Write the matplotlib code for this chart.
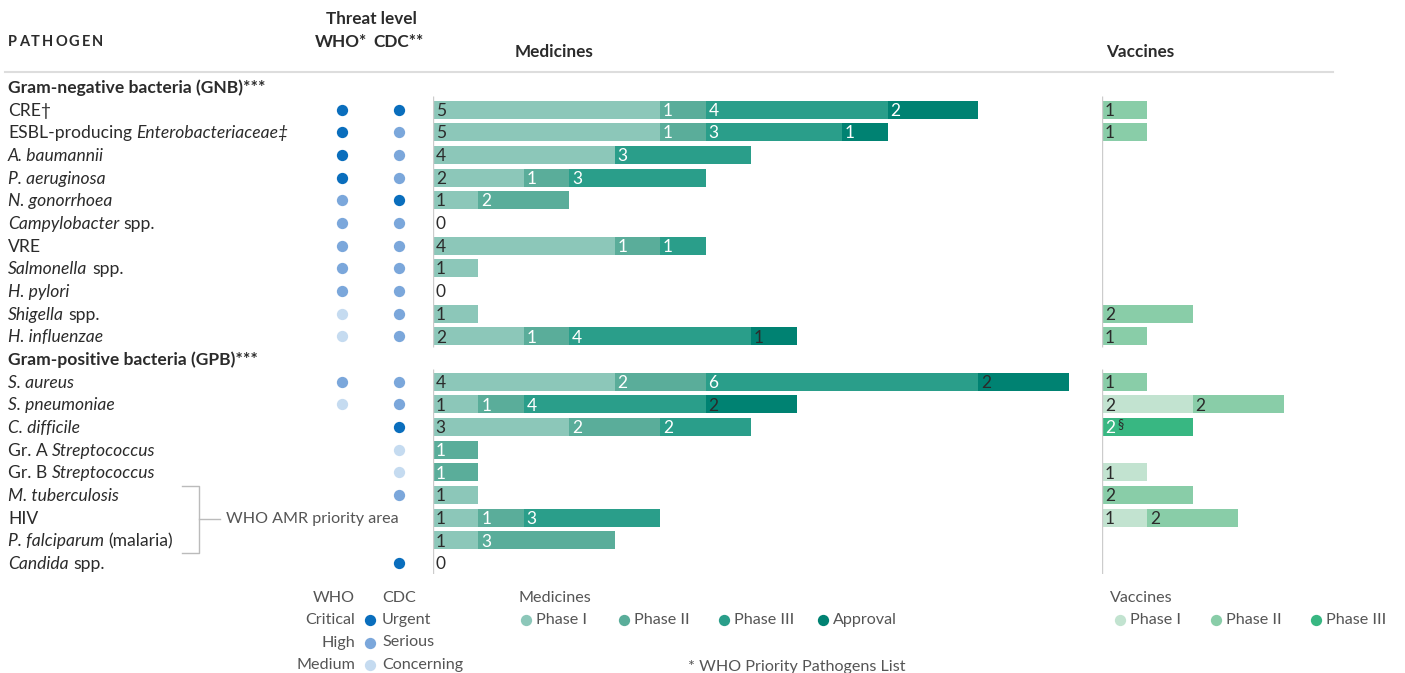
import numpy as np
import matplotlib
matplotlib.use("Agg")
import matplotlib.pyplot as plt

plt.rcParams['font.family'] = ['Lato', 'DejaVu Sans']

# ---- data ----
# (label pieces, italic flag per piece); None marks a group header row
rows = [
    ("Gram-negative bacteria (GNB)***", None),
    ([("CRE\u2020", "normal")], 1),
    ([("ESBL-producing", "normal"), ("Enterobacteriaceae\u2021", "italic")], 1),
    ([("A. baumannii", "italic")], 1),
    ([("P. aeruginosa", "italic")], 1),
    ([("N. gonorrhoea", "italic")], 1),
    ([("Campylobacter", "italic"), ("spp.", "normal")], 1),
    ([("VRE", "normal")], 1),
    ([("Salmonella", "italic"), ("spp.", "normal")], 1),
    ([("H. pylori", "italic")], 1),
    ([("Shigella", "italic"), ("spp.", "normal")], 1),
    ([("H. influenzae", "italic")], 1),
    ("Gram-positive bacteria (GPB)***", None),
    ([("S. aureus", "italic")], 1),
    ([("S. pneumoniae", "italic")], 1),
    ([("C. difficile", "italic")], 1),
    ([("Gr. A", "normal"), ("Streptococcus", "italic")], 1),
    ([("Gr. B", "normal"), ("Streptococcus", "italic")], 1),
    ([("M. tuberculosis", "italic")], 1),
    ([("HIV", "normal")], 1),
    ([("P. falciparum", "italic"), ("(malaria)", "normal")], 1),
    ([("Candida", "italic"), ("spp.", "normal")], 1),
]

# threat levels: 3 critical/urgent, 2 high/serious, 1 medium/concerning, 0 none
who = [None, 3, 3, 3, 3, 2, 2, 2, 2, 2, 1, 1, None, 2, 1, 0, 0, 0, 0, 0, 0, 0]
cdc = [None, 3, 2, 2, 2, 3, 2, 2, 2, 2, 2, 2, None, 2, 2, 3, 1, 1, 2, 0, 0, 3]

# medicines pipeline: Phase I, Phase II, Phase III, Approval
med_p1 = [0, 5, 5, 4, 2, 1, 0, 4, 1, 0, 1, 2, 0, 4, 1, 3, 0, 0, 1, 1, 1, 0]
med_p2 = [0, 1, 1, 0, 1, 2, 0, 1, 0, 0, 0, 1, 0, 2, 1, 2, 1, 1, 0, 1, 3, 0]
med_p3 = [0, 4, 3, 3, 3, 0, 0, 1, 0, 0, 0, 4, 0, 6, 4, 2, 0, 0, 0, 3, 0, 0]
med_ap = [0, 2, 1, 0, 0, 0, 0, 0, 0, 0, 0, 1, 0, 2, 2, 0, 0, 0, 0, 0, 0, 0]

# vaccines pipeline: Phase I, Phase II, Phase III
vac_p1 = [0, 0, 0, 0, 0, 0, 0, 0, 0, 0, 0, 0, 0, 0, 2, 0, 0, 1, 0, 1, 0, 0]
vac_p2 = [0, 1, 1, 0, 0, 0, 0, 0, 0, 0, 2, 1, 0, 1, 2, 0, 0, 0, 2, 2, 0, 0]
vac_p3 = [0, 0, 0, 0, 0, 0, 0, 0, 0, 0, 0, 0, 0, 0, 0, 2, 0, 0, 0, 0, 0, 0]

med_names = ["Phase I", "Phase II", "Phase III", "Approval"]
vac_names = ["Phase I", "Phase II", "Phase III"]
med_colors = ["#8cc7b9", "#5aad9a", "#2a9e8a", "#008272"]
vac_colors = ["#c2e3d0", "#89cda8", "#38b782"]
dot_colors = {3: "#0a6ebd", 2: "#7ba7db", 1: "#c5dbf0"}

# approval labels printed dark on these rows
dark_approval = {11, 13, 14}

TXT = "#2b2b2b"
GREY = "#555555"
ROW0, DY = 88, 22.67
FS = 11.6     # legend / notes
LFS = 12.6    # pathogen labels
HFS = 12.3
DOT = 66


def ry(i):
    return ROW0 + DY * i


fig = plt.figure(figsize=(14.05, 6.73), dpi=100)
ax0 = fig.add_axes([0, 0, 1, 1])
ax0.set_xlim(0, 1405)
ax0.set_ylim(673, 0)
ax0.axis("off")
fig.canvas.draw()
renderer = fig.canvas.get_renderer()


def text_w(s, **kw):
    t = ax0.text(0, 0, s, fontsize=kw.get("size", FS), style=kw.get("style", "normal"),
                 weight=kw.get("weight", "normal"))
    w = t.get_window_extent(renderer).width
    t.remove()
    return w


space_w = text_w("x x", size=LFS) - text_w("xx", size=LFS)

# header
hy = 42
x = 8
for ch in "PATHOGEN":
    ax0.text(x, hy, ch, fontsize=10.5, weight="bold", color=TXT, va="center")
    x += text_w(ch, size=10.5, weight="bold") + 2.0
ax0.text(371, 19, "Threat level", fontsize=HFS, weight="bold", color=TXT, ha="center", va="center")
ax0.text(341, 42, "WHO*", fontsize=HFS, weight="bold", color=TXT, ha="center", va="center")
ax0.text(399, 42, "CDC**", fontsize=HFS, weight="bold", color=TXT, ha="center", va="center")
ax0.text(554, 52, "Medicines", fontsize=HFS, weight="bold", color=TXT, ha="center", va="center")
ax0.text(1140, 52, "Vaccines", fontsize=HFS, weight="bold", color=TXT, ha="center", va="center")
ax0.plot([5, 1333], [72, 72], color="#dddddd", lw=1.5)

# row labels and threat dots
for i, (lab, kind) in enumerate(rows):
    y = ry(i)
    if kind is None:
        ax0.text(8, y, lab, fontsize=LFS, weight="bold", color=TXT, va="center")
        continue
    x = 8
    for txt, st in lab:
        ax0.text(x, y, txt, fontsize=LFS, style=st, color=TXT, va="center")
        x += text_w(txt, size=LFS, style=st) + space_w
    if who[i]:
        ax0.scatter(342, y - 1, s=DOT, color=dot_colors[who[i]], lw=0)
    if cdc[i]:
        ax0.scatter(399, y - 1, s=DOT, color=dot_colors[cdc[i]], lw=0)

# WHO AMR priority area bracket
ax0.plot([182, 199, 199, 182], [ry(18) - 10, ry(18) - 10, ry(20) + 12, ry(20) + 12], color="#bbbbbb", lw=1)
ax0.plot([199, 220], [ry(19), ry(19)], color="#bbbbbb", lw=1)
ax0.text(226, ry(19), "WHO AMR priority area", fontsize=FS, color=GREY, va="center")

# bar axes
UNIT = 45.45
top_px, bot_px = ry(-0.5) - 1, ry(21.5) - 1


def bar_axes(left_px, units):
    ax = fig.add_axes([left_px / 1405, 1 - bot_px / 673, units * UNIT / 1405, (bot_px - top_px) / 673])
    ax.set_xlim(0, units)
    ax.set_ylim(21.5, -0.5)
    ax.axis("off")
    ax.vlines(0, 0.4, 11.47, color="#cccccc", lw=1)
    ax.vlines(0, 12.44, 21.5, color="#cccccc", lw=1)
    return ax


axm = bar_axes(433, 14.3)
axv = bar_axes(1102, 5.5)

bar_rows = [i for i, r in enumerate(rows) if r[1] is not None]
med = np.array([med_p1, med_p2, med_p3, med_ap])
left = np.zeros(len(rows))
for k in range(4):
    vals = med[k]
    axm.barh(bar_rows, vals[bar_rows], left=left[bar_rows], height=0.79, color=med_colors[k], lw=0)
    for i in bar_rows:
        if vals[i] > 0:
            c = TXT if k == 0 or (k == 3 and i in dark_approval) else "white"
            axm.text(left[i] + 0.06, i + 0.05, str(vals[i]), fontsize=12.5, color=c, va="center")
    left += vals
for i in bar_rows:
    if left[i] == 0:
        axm.text(0.06, i + 0.05, "0", fontsize=12.5, color=TXT, va="center")

vac = np.array([vac_p1, vac_p2, vac_p3])
left = np.zeros(len(rows))
for k in range(3):
    vals = vac[k]
    axv.barh(bar_rows, vals[bar_rows], left=left[bar_rows], height=0.79, color=vac_colors[k], lw=0)
    for i in bar_rows:
        if vals[i] > 0:
            c = "white" if k == 2 else TXT
            axv.text(left[i] + 0.06, i + 0.05, str(vals[i]), fontsize=12.5, color=c, va="center")
            if k == 2:
                axv.text(left[i] + 0.33, i - 0.12, "\u00a7", fontsize=9, color=TXT, va="center")
    left += vals

# legends
ax0.text(355, 598, "WHO", fontsize=FS, color=GREY, ha="right", va="center")
ax0.text(382, 598, "CDC", fontsize=FS, color=GREY, va="center")
for j, (w, c) in enumerate([("Critical", "Urgent"), ("High", "Serious"), ("Medium", "Concerning")]):
    y = 620 + 22.5 * j
    ax0.text(355, y, w, fontsize=FS, color=GREY, ha="right", va="center")
    ax0.scatter(370, y, s=DOT, color=dot_colors[3 - j], lw=0)
    ax0.text(382, y, c, fontsize=FS, color=GREY, va="center")

ax0.text(518, 598, "Medicines", fontsize=FS, color=GREY, va="center")
for name, c, xd in zip(med_names, med_colors, [526, 624, 724, 823]):
    ax0.scatter(xd, 620, s=DOT, color=c, lw=0)
    ax0.text(xd + 10, 620, name, fontsize=FS, color=GREY, va="center")

ax0.text(1110, 598, "Vaccines", fontsize=FS, color=GREY, va="center")
for name, c, xd in zip(vac_names, vac_colors, [1120, 1216, 1316]):
    ax0.scatter(xd, 620, s=DOT, color=c, lw=0)
    ax0.text(xd + 10, 620, name, fontsize=FS, color=GREY, va="center")

ax0.text(688, 667, "* WHO Priority Pathogens List", fontsize=FS, color=GREY, va="center")

fig.savefig("out.png", dpi=100)
